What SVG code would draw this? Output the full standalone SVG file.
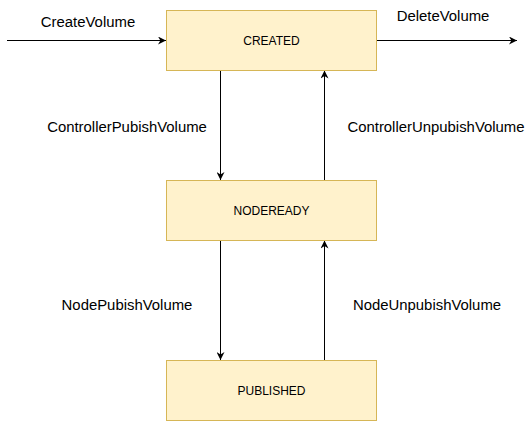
<svg xmlns="http://www.w3.org/2000/svg" width="527" height="421" viewBox="0 0 527 421">
<defs>
<style>
.box{fill:#fff2cc;stroke:#d6b656;stroke-width:1}
.lbl{font-family:"Liberation Sans",Arial,sans-serif;font-size:12px;fill:#000;text-anchor:middle;dominant-baseline:central}
.elbl{font-family:"Liberation Sans",Arial,sans-serif;font-size:14.9px;fill:#000;text-anchor:middle;dominant-baseline:central}
.edge{stroke:#000;stroke-width:1;fill:none}
</style>
<marker id="arr" viewBox="0 0 10 10" refX="10" refY="5" markerWidth="8" markerHeight="8" markerUnits="userSpaceOnUse" orient="auto">
<path d="M0,0 L10,5 L0,10 L3,5 Z" fill="#000"/>
</marker>
</defs>
<rect width="527" height="421" fill="#fff"/>
<g id="connectors">
<path class="edge" d="M7,40.5 L166,40.5" marker-end="url(#arr)"/>
<path class="edge" d="M376.5,40.5 L517,40.5" marker-end="url(#arr)"/>
<path class="edge" d="M220.5,70.5 L220.5,180" marker-end="url(#arr)"/>
<path class="edge" d="M324.5,180 L324.5,70.5" marker-end="url(#arr)"/>
<path class="edge" d="M220.5,240.5 L220.5,360" marker-end="url(#arr)"/>
<path class="edge" d="M324.5,360 L324.5,240.5" marker-end="url(#arr)"/>
<text class="elbl" x="88" y="22">CreateVolume</text>
<text class="elbl" x="443" y="16">DeleteVolume</text>
<text class="elbl" x="127" y="127">ControllerPubishVolume</text>
<text class="elbl" x="436" y="127">ControllerUnpubishVolume</text>
<text class="elbl" x="127" y="305">NodePubishVolume</text>
<text class="elbl" x="427" y="305">NodeUnpubishVolume</text>
</g>
<g id="created">
<rect class="box" x="166.5" y="10.5" width="210" height="60"/>
<text class="lbl" x="271.5" y="40.5">CREATED</text>
</g>
<g id="nodeready">
<rect class="box" x="166.5" y="180.5" width="210" height="60"/>
<text class="lbl" x="271.5" y="210.5">NODEREADY</text>
</g>
<g id="published">
<rect class="box" x="166.5" y="360.5" width="210" height="60"/>
<text class="lbl" x="271.5" y="390.5">PUBLISHED</text>
</g>
</svg>
